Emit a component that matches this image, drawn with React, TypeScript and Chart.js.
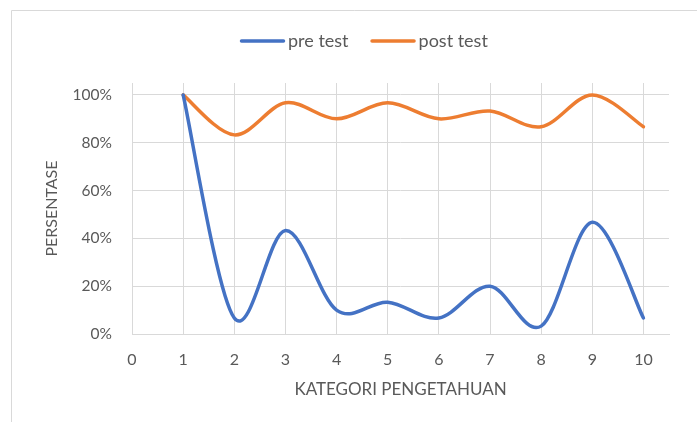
import React, { useEffect, useRef } from "react";
import { Chart, registerables } from "chart.js";

Chart.register(...registerables);

const categories = [1, 2, 3, 4, 5, 6, 7, 8, 9, 10];
const preTest = [1.0, 0.067, 0.433, 0.1, 0.133, 0.067, 0.2, 0.033, 0.467, 0.067];
const postTest = [1.0, 0.833, 0.967, 0.9, 0.967, 0.9, 0.933, 0.867, 1.0, 0.867];
const seriesNames = ["pre test", "post test"];
const xTickValues = [0, 1, 2, 3, 4, 5, 6, 7, 8, 9, 10];
const yTickValues = [0, 0.2, 0.4, 0.6, 0.8, 1.0];

const FONT = "Lato, 'Open Sans', sans-serif";
const TEXT = "#595959";
const GRID = "#D9D9D9";
const BLUE = "#4472C4";
const ORANGE = "#ED7D31";

const framePlugin = {
  id: "frame",
  beforeDraw(chart: any) {
    const ctx = chart.ctx;
    ctx.save();
    ctx.strokeStyle = "#D9D9D9";
    ctx.lineWidth = 1;
    ctx.beginPath();
    ctx.moveTo(11.5, 422);
    ctx.lineTo(11.5, 10.5);
    ctx.lineTo(697, 10.5);
    ctx.stroke();
    ctx.restore();
  },
};

// Excel-like smoothing: Catmull-Rom control points in pixel space
const smoothPlugin = {
  id: "excelSmooth",
  beforeDatasetsDraw(chart: any) {
    chart.data.datasets.forEach((_: any, di: number) => {
      const meta = chart.getDatasetMeta(di);
      const pts = meta.data;
      const n = pts.length;
      for (let i = 0; i < n; i++) {
        const p = pts[i];
        const prev = pts[Math.max(0, i - 1)];
        const next = pts[Math.min(n - 1, i + 1)];
        const dx = (next.x - prev.x) / 6;
        const dy = (next.y - prev.y) / 6;
        p.cp1x = p.x - dx;
        p.cp1y = p.y - dy;
        p.cp2x = p.x + dx;
        p.cp2y = p.y + dy;
      }
      if (meta.dataset) {
        meta.dataset._pointsUpdated = true;
        delete meta.dataset._path;
      }
    });
  },
};

const legendPlugin = {
  id: "customLegend",
  afterDraw(chart: any) {
    const ctx = chart.ctx;
    ctx.save();
    ctx.font = `18px ${FONT}`;
    ctx.textBaseline = "middle";
    ctx.textAlign = "left";
    let x = 240;
    const y = 41;
    chart.data.datasets.forEach((ds: any) => {
      ctx.strokeStyle = ds.borderColor;
      ctx.lineWidth = 3.5;
      ctx.lineCap = "round";
      ctx.beginPath();
      ctx.moveTo(x + 1.5, y);
      ctx.lineTo(x + 43.5, y);
      ctx.stroke();
      ctx.fillStyle = TEXT;
      ctx.fillText(ds.label, x + 48, y);
      x += 48 + ctx.measureText(ds.label).width + 22;
    });
    ctx.restore();
  },
};

export default function App() {
  const ref = useRef<HTMLCanvasElement | null>(null);

  useEffect(() => {
    document.body.style.margin = "0";
    const canvas = ref.current;
    if (!canvas) return;
    const chart = new Chart(canvas, {
      type: "line",
      data: {
        datasets: [
          {
            label: seriesNames[0],
            data: categories.map((c, i) => ({ x: c, y: preTest[i] })),
            borderColor: BLUE,
            backgroundColor: BLUE,
            borderWidth: 3.5,
            borderCapStyle: "round",
            borderJoinStyle: "round",
            pointRadius: 0,
            tension: 0.4,
            fill: false,
          },
          {
            label: seriesNames[1],
            data: categories.map((c, i) => ({ x: c, y: postTest[i] })),
            borderColor: ORANGE,
            backgroundColor: ORANGE,
            borderWidth: 3.5,
            borderCapStyle: "round",
            borderJoinStyle: "round",
            pointRadius: 0,
            tension: 0.4,
            fill: false,
          },
        ],
      },
      options: {
        responsive: false,
        animation: false,
        layout: { padding: { top: 83, left: 0, right: 28, bottom: 0 } },
        plugins: {
          legend: { display: false },
          tooltip: { enabled: false },
        },
        scales: {
          x: {
            type: "linear",
            min: 0,
            max: 10.5,
            afterBuildTicks: (scale: any) => {
              scale.ticks = xTickValues.map((v) => ({ value: v }));
            },
            afterFit: (scale: any) => {
              scale.height = 88;
            },
            grid: { color: GRID, lineWidth: 1, drawTicks: false },
            border: { color: GRID, width: 1 },
            ticks: {
              color: TEXT,
              font: { family: FONT, size: 16 },
              padding: 16,
              maxRotation: 0,
              callback: (v: any) => String(v),
            },
            title: {
              display: true,
              text: "KATEGORI PENGETAHUAN",
              color: TEXT,
              font: { family: FONT, size: 17 },
              padding: { top: 0, bottom: 22 },
            },
          },
          y: {
            type: "linear",
            min: 0,
            max: 1.05,
            afterBuildTicks: (scale: any) => {
              scale.ticks = yTickValues.map((v) => ({ value: v }));
            },
            afterFit: (scale: any) => {
              scale.width = 132;
            },
            grid: { color: GRID, lineWidth: 1, drawTicks: false },
            border: { display: false },
            ticks: {
              color: TEXT,
              font: { family: FONT, size: 15.5 },
              padding: 20,
              callback: (v: any) => `${Math.round(Number(v) * 100)}%`,
            },
            title: {
              display: true,
              text: "PERSENTASE",
              color: TEXT,
              font: { family: FONT, size: 16 },
              padding: { top: 42, bottom: 0 },
            },
          },
        },
      },
      plugins: [framePlugin, smoothPlugin, legendPlugin],
    });
    return () => chart.destroy();
  }, []);

  return (
    <div style={{ width: 697, height: 422 }}>
      <canvas ref={ref} width={697} height={422} style={{ display: "block" }} />
    </div>
  );
}
